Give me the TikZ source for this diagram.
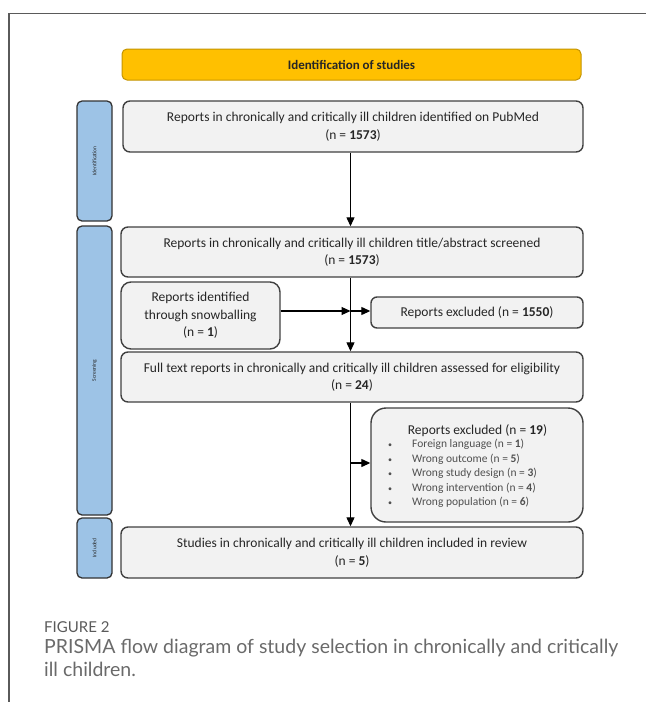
\documentclass[tikz,border=0pt]{standalone}
\usepackage{fontspec}
\setmainfont{Carlito}
\newfontfamily\capfont{Lato}
\usetikzlibrary{arrows.meta}
\definecolor{boxfill}{HTML}{F2F2F2}
\definecolor{boxdraw}{HTML}{404040}
\definecolor{hdrfill}{HTML}{FFC000}
\definecolor{hdrdraw}{HTML}{C49400}
\definecolor{lblfill}{HTML}{9DC3E6}
\definecolor{lbldraw}{HTML}{333333}
\definecolor{framec}{HTML}{5A5A5A}
\definecolor{capc}{HTML}{6A6A6A}
\definecolor{figc}{HTML}{5A5A5A}
\definecolor{bulc}{HTML}{505050}
\definecolor{txtc}{HTML}{262626}
\begin{document}
\begin{tikzpicture}[x=1pt,y=-1pt,
  box/.style={draw=boxdraw, fill=boxfill, line width=1.4pt, rounded corners=7pt, inner sep=0pt, align=center, font=\fontsize{13.5}{17.5}\selectfont, text=txtc},
  lbl/.style={draw=lbldraw, fill=lblfill, line width=1.3pt, rounded corners=5pt, inner sep=0pt, rotate=90, minimum height=35pt, font=\fontsize{5.5}{6}\selectfont, text=txtc},
  arr/.style={-{Triangle[length=9pt,width=8pt]}, line width=1.2pt, black},
  bul/.style={anchor=base west, inner sep=0pt, font=\fontsize{11.5}{14}\selectfont, text=bulc},
  captxt/.style={anchor=base west, inner sep=0pt, text=capc}
]
\useasboundingbox (0,0) rectangle (646,702);
\draw[framec, line width=1.2pt] (9,702) -- (9,13.5) -- (646,13.5);

% header
\node[draw=hdrdraw, fill=hdrfill, line width=1pt, rounded corners=5pt, inner sep=0pt,
      minimum width=459pt, minimum height=31pt, font=\bfseries\fontsize{13}{15}\selectfont, text=txtc]
      (hdr) at (351.5,64.5) {Identification of studies};

% side labels
\node[lbl, minimum width=120pt] (lid) at (94.5,161) {Identification};
\node[lbl, minimum width=289pt] (lsc) at (94.5,370.5) {Screening};
\node[lbl, minimum width=60pt] (lin) at (94.5,548) {Included};

% boxes
\node[box, minimum width=460pt, minimum height=51pt] (b1) at (353,126.5)
  {Reports in chronically and critically ill children identified on PubMed\\(n = \textbf{1573})};
\node[box, minimum width=462pt, minimum height=50pt] (b2) at (352,252)
  {Reports in chronically and critically ill children title/abstract screened\\(n = \textbf{1573})};
\node[box, rounded corners=10pt, minimum width=159pt, minimum height=67pt] (snow) at (200.5,315.5)
  {Reports identified\\through snowballing\\(n = \textbf{1})};
\node[box, rounded corners=6pt, minimum width=212pt, minimum height=31pt] (ex1) at (477,312.5)
  {Reports excluded (n = \textbf{1550})};
\node[box, minimum width=462pt, minimum height=50pt] (b3) at (352,377)
  {Full text reports in chronically and critically ill children assessed for eligibility\\(n = \textbf{24})};
\node[box, rounded corners=15pt, minimum width=212pt, minimum height=114pt] (ex2) at (477,465) {};
\node[box, minimum width=462pt, minimum height=51pt] (b4) at (352,552.5)
  {Studies in chronically and critically ill children included in review\\(n = \textbf{5})};

% excluded list
\node[anchor=base, inner sep=0pt, font=\fontsize{13.5}{17.5}\selectfont, text=txtc] (ex2t) at (477.5,434) {Reports excluded (n = \textbf{19})};
\node[bul] (i1) at (388,447.5) {\makebox[24pt][l]{\fontsize{8}{8}\selectfont\textbullet}Foreign language (n = \textbf{1})};
\node[bul] (i2) at (388,462) {\makebox[24pt][l]{\fontsize{8}{8}\selectfont\textbullet}Wrong outcome (n = \textbf{5})};
\node[bul] (i3) at (388,476.5) {\makebox[24pt][l]{\fontsize{8}{8}\selectfont\textbullet}Wrong study design (n = \textbf{3})};
\node[bul] (i4) at (388,491) {\makebox[24pt][l]{\fontsize{8}{8}\selectfont\textbullet}Wrong intervention (n = \textbf{4})};
\node[bul] (i5) at (388,505.5) {\makebox[24pt][l]{\fontsize{8}{8}\selectfont\textbullet}Wrong population (n = \textbf{6})};

% connectors
\coordinate (sp) at (350.5,0);
\coordinate (j1) at (350.5,311);
\coordinate (j2) at (350.5,463);
\draw[arr] (b1.south -| sp) -- (b2.north -| sp);
\draw[arr] (b2.south -| sp) -- (b3.north -| sp);
\draw[arr] (snow.east |- j1) -- (j1);
\draw[arr] (j1) -- (ex1.west |- j1);
\draw[arr] (b3.south -| sp) -- (b4.north -| sp);
\draw[arr] (j2) -- (ex2.west |- j2);

% caption
\node[captxt, text=figc, font=\capfont\fontsize{15}{17}\selectfont] (figl) at (44,632) {FIGURE 2};
\node[captxt, font=\capfont\fontsize{19.5}{23}\selectfont] (cap1) at (44,653.5) {PRISMA flow diagram of study selection in chronically and critically};
\node[captxt, font=\capfont\fontsize{19.5}{23}\selectfont] (cap2) at (44,676) {ill children.};
\end{tikzpicture}
\end{document}
